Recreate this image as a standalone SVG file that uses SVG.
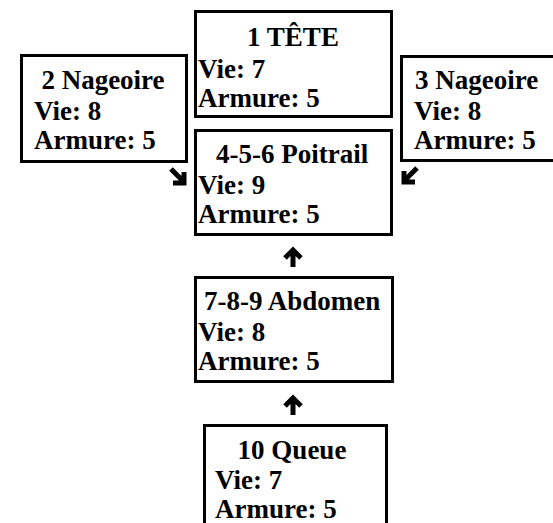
<svg xmlns="http://www.w3.org/2000/svg" width="553" height="523" viewBox="0 0 553 523">
  <style>
    .box { fill: #ffffff; stroke: #000000; stroke-width: 3; }
    .t { font-family: "Liberation Serif", "Times New Roman", serif; font-weight: bold; font-size: 27px; fill: #000000; }
    .c { text-anchor: middle; }
    .arr { fill: none; stroke: #000000; stroke-width: 5; stroke-linecap: butt; stroke-linejoin: miter; }
  </style>
  <rect width="553" height="523" fill="#ffffff"/>

  <!-- head -->
  <g id="tete">
    <rect class="box" x="195.5" y="11.5" width="196" height="105"/>
    <text class="t c" x="293" y="46">1 TÊTE</text>
    <text class="t" x="198" y="78">Vie: 7</text>
    <text class="t" x="198" y="107">Armure: 5</text>
  </g>

  <!-- left fin -->
  <g id="nageoire2">
    <rect class="box" x="21.5" y="55.5" width="165" height="106"/>
    <text class="t c" x="103" y="89">2 Nageoire</text>
    <text class="t" x="34" y="120">Vie: 8</text>
    <text class="t" x="34" y="149">Armure: 5</text>
  </g>

  <!-- right fin -->
  <g id="nageoire3">
    <rect class="box" x="401.5" y="56.5" width="160" height="104"/>
    <text class="t" x="415" y="89">3 Nageoire</text>
    <text class="t" x="414" y="120">Vie: 8</text>
    <text class="t" x="414" y="149">Armure: 5</text>
  </g>

  <!-- chest -->
  <g id="poitrail">
    <rect class="box" x="195.5" y="130.5" width="196" height="104"/>
    <text class="t" x="216" y="163">4-5-6 Poitrail</text>
    <text class="t" x="198" y="194">Vie: 9</text>
    <text class="t" x="198" y="223">Armure: 5</text>
  </g>

  <!-- abdomen -->
  <g id="abdomen">
    <rect class="box" x="195.5" y="277.5" width="197" height="104"/>
    <text class="t" x="204" y="310">7-8-9 Abdomen</text>
    <text class="t" x="198" y="341">Vie: 8</text>
    <text class="t" x="198" y="370">Armure: 5</text>
  </g>

  <!-- tail -->
  <g id="queue">
    <rect class="box" x="204.5" y="425.5" width="182" height="110"/>
    <text class="t c" x="292" y="459">10 Queue</text>
    <text class="t" x="215" y="489">Vie: 7</text>
    <text class="t" x="215" y="518">Armure: 5</text>
  </g>

  <!-- connectors -->
  <g id="connectors">
    <!-- left fin to chest -->
    <path class="arr" d="M171 169 L183 181 M173 183 L184 183 L184 172"/>
    <!-- right fin to chest -->
    <path class="arr" d="M417 168 L405 180 M415 182 L404 182 L404 171"/>
    <!-- abdomen to chest -->
    <path class="arr" d="M293 267 L293 250 M285 258 L293 250 L301 258"/>
    <!-- tail to abdomen -->
    <path class="arr" d="M293 415 L293 398 M285 406 L293 398 L301 406"/>
  </g>
</svg>
